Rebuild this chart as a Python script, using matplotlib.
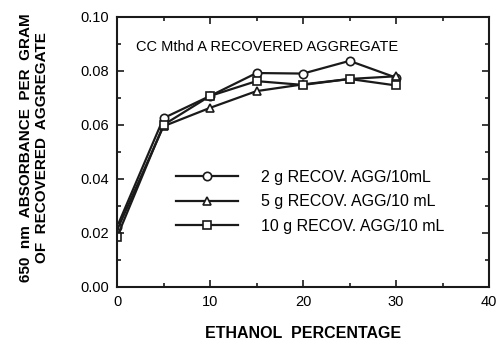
import matplotlib.pyplot as plt
from matplotlib.ticker import MultipleLocator

plt.rcParams['font.family'] = ['Liberation Sans', 'DejaVu Sans']

ethanol = [0, 5, 10, 15, 20, 25, 30]
agg_2g = [0.0222, 0.0625, 0.0707, 0.0792, 0.0790, 0.0837, 0.0775]
agg_5g = [0.0210, 0.0595, 0.0663, 0.0725, 0.0750, 0.0770, 0.0780]
agg_10g = [0.0185, 0.0600, 0.0707, 0.0762, 0.0748, 0.0770, 0.0746]

labels = ["2 g RECOV. AGG/10mL", "5 g RECOV. AGG/10 mL", "10 g RECOV. AGG/10 mL"]
xticks = [0, 10, 20, 30, 40]
yticks = [0.00, 0.02, 0.04, 0.06, 0.08, 0.10]

fig = plt.figure(figsize=(4.98, 3.44), dpi=100)
ax = fig.add_axes([0.235, 0.166, 0.747, 0.785])

ax.plot(ethanol, agg_2g, color='#1a1a1a', lw=1.6, marker='o', ms=6,
        mfc='white', mec='#1a1a1a', mew=1.2, label=labels[0])
ax.plot(ethanol, agg_5g, color='#1a1a1a', lw=1.6, marker='^', ms=6,
        mfc='white', mec='#1a1a1a', mew=1.2, label=labels[1])
ax.plot(ethanol, agg_10g, color='#1a1a1a', lw=1.6, marker='s', ms=6,
        mfc='white', mec='#1a1a1a', mew=1.2, label=labels[2])

ax.set_xlim(0, 40)
ax.set_ylim(0, 0.10)
ax.set_xticks(xticks)
ax.set_xticklabels([str(t) for t in xticks])
ax.set_yticks(yticks)
ax.set_yticklabels(["%.2f" % t for t in yticks])
ax.xaxis.set_minor_locator(MultipleLocator(5))
ax.yaxis.set_minor_locator(MultipleLocator(0.01))
ax.tick_params(which='both', direction='in', top=True, right=True,
               labelsize=10.5, width=1.2, color='#1a1a1a')
ax.tick_params(which='major', length=5, pad=6)
ax.tick_params(which='minor', length=3)
for s in ax.spines.values():
    s.set_linewidth(1.5)
    s.set_color('#1a1a1a')

ax.set_xlabel("ETHANOL  PERCENTAGE", fontsize=11.5, fontweight='bold', labelpad=12)
fig.text(0.068, 0.57, "650  nm  ABSORBANCE  PER  GRAM\nOF  RECOVERED  AGGREGATE",
         rotation=90, ha='center', va='center', fontsize=11,
         fontweight='bold', linespacing=1.15)

ax.text(0.05, 0.89, "CC Mthd A RECOVERED AGGREGATE", transform=ax.transAxes,
        fontsize=10.5, va='center', ha='left')

ax.legend(loc='center left', bbox_to_anchor=(0.12, 0.315), frameon=False,
          fontsize=11.5, handlelength=3.9, handletextpad=1.4,
          labelspacing=0.6)

fig.savefig("out.png", dpi=100)
